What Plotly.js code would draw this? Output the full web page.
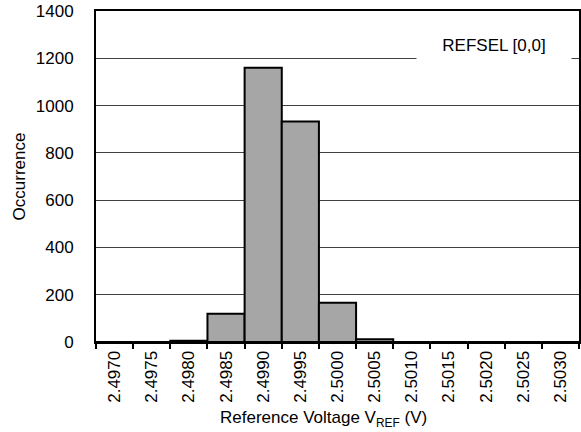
<!DOCTYPE html>
<html>
<head>
<meta charset="utf-8">
<script src="https://cdn.plot.ly/plotly-3.0.1.min.js"></script>
<style>html,body{margin:0;padding:0;background:#fff;}#chart{width:581px;height:432px;}</style>
</head>
<body>
<div id="chart"></div>
<script>
var categories = ["2.4970","2.4975","2.4980","2.4985","2.4990","2.4995","2.5000","2.5005","2.5010","2.5015","2.5020","2.5025","2.5030"];
var occurrences = [0, 0, 5, 120, 1160, 933, 166, 12, 0, 0, 0, 0, 0];
var yTicks = [0, 200, 400, 600, 800, 1000, 1200, 1400];
var legendLabel = "REFSEL [0,0]";
var xTitle = "Reference Voltage V<sub>REF</sub> (V)";
var yTitle = "Occurrence";

var font = "Liberation Sans, Arial, sans-serif";

var trace = {
  type: "bar",
  x: categories,
  y: occurrences,
  marker: {color: "#a6a6a6", line: {color: "#000", width: 2}},
  hoverinfo: "x+y"
};

var layout = {
  width: 581, height: 432,
  margin: {l: 96, r: 2, t: 11, b: 90, pad: 0},
  paper_bgcolor: "#fff", plot_bgcolor: "#fff",
  font: {family: font, size: 17, color: "#000"},
  showlegend: false,
  bargap: 0,
  xaxis: {
    type: "category",
    tickangle: -90,
    tickson: "boundaries",
    ticks: "outside", ticklen: 5, tickwidth: 2, tickcolor: "#000",
    showline: true, linecolor: "#000", linewidth: 2, mirror: true,
    showgrid: false, zeroline: false,
    tickfont: {family: font, size: 17, color: "#000"},
    automargin: false
  },
  yaxis: {
    range: [0, 1400],
    tickvals: yTicks,
    ticktext: yTicks.map(String),
    ticks: "",
    ticklabelstandoff: 17,
    showline: true, linecolor: "#000", linewidth: 2, mirror: true,
    showgrid: true, gridcolor: "#404040", gridwidth: 1,
    zeroline: false,
    tickfont: {family: font, size: 17, color: "#000"},
    title: {text: yTitle, font: {family: font, size: 17, color: "#000"}, standoff: 6},
    automargin: false
  },
  annotations: [
    {
      text: legendLabel, xref: "paper", yref: "paper",
      x: 0.824, y: 0.897, xanchor: "center", yanchor: "middle",
      showarrow: false, bgcolor: "#fff", width: 152, height: 30,
      font: {family: font, size: 17, color: "#000"}
    },
    {
      text: xTitle, xref: "paper", yref: "paper",
      x: 0.472, y: -0.233, xanchor: "center", yanchor: "middle",
      showarrow: false,
      font: {family: font, size: 17, color: "#000"}
    }
  ]
};

Plotly.newPlot("chart", [trace], layout, {displayModeBar: false, staticPlot: true});
</script>
</body>
</html>
